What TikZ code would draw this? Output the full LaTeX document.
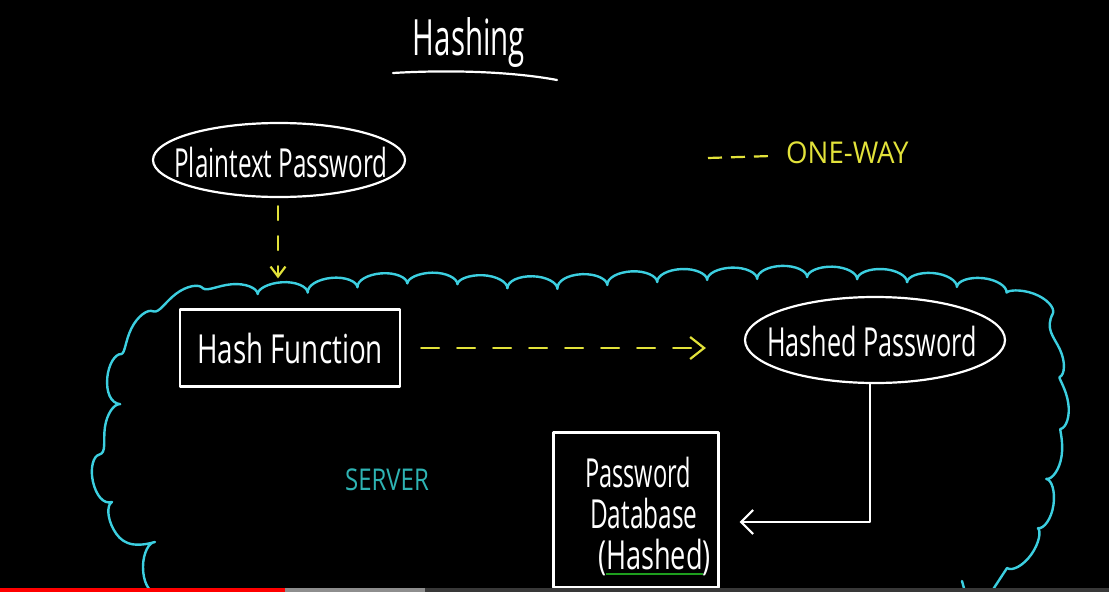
\documentclass[tikz,border=0pt]{standalone}
\usepackage{fontspec}
\usepackage{graphicx}
\setmainfont{Open Sans}
\usetikzlibrary{arrows.meta,decorations.pathmorphing,calc,shapes.geometric}
\definecolor{cl}{HTML}{3CCFE0}
\definecolor{srv}{HTML}{2EB3B3}
\definecolor{yl}{HTML}{E2E23A}
\definecolor{ulg}{HTML}{1E9E1E}
\definecolor{pbred}{HTML}{FF0000}
\definecolor{pbgray}{HTML}{8E8E8E}
\definecolor{pbdark}{HTML}{383838}
\newcommand\hs[2]{\scalebox{#1}[1]{#2}}
\newcommand\greenul[1]{\setbox0\hbox{#1}\rlap{\color{ulg}\rule[-6pt]{\wd0}{2.5pt}}\box0}
\begin{document}
\begin{tikzpicture}[x=1pt,y=-1pt,
  wline/.style={draw=white, line width=2.2pt, line cap=round, line join=round},
  hand/.style={text=white, font=\fontsize{40}{41}\selectfont, inner sep=0pt},
  ydash/.style={draw=yl, line width=2.2pt, line cap=round, dash pattern=on 14pt off 16pt},
  cloudline/.style={draw=cl, line width=2.4pt, line cap=round, line join=round}
]
\useasboundingbox (0,0) rectangle (1109,592);
\fill[black] (0,0) rectangle (1109,592);

% title
\node[text=white, font=\fontsize{50}{52}\selectfont, inner sep=0pt, anchor=base] (title) at (469,55) {\hs{0.59}{Hashing}};
\coordinate (ul1) at (393,73);
\coordinate (ul2) at (557,80);
\draw[wline] (ul1) .. controls (460,69) and (520,73) .. (ul2);

% legend
\node[text=yl, font=\fontsize{30}{32}\selectfont, inner sep=0pt, anchor=west] (ow) at (786,153) {\hs{0.92}{ONE-WAY}};
\coordinate (lg) at (708,158);
\draw[draw=yl, line width=2.2pt, dash pattern=on 14pt off 9pt] (lg) -- ($(ow.west)+(-15,3)$);

% cloud (server)
\draw[cloudline, decorate, decoration={bumps, segment length=100pt, amplitude=12pt}]
  plot[smooth, tension=0.5] coordinates {(155,592) (137,547) (110,503) (115,440) (120,385) (143,337) (190,302) (240,297) (300,293) (360,287) (420,285) (480,287) (540,288) (600,285) (660,282) (720,280) (790,278) (860,280) (930,285) (990,292) (1022,305) (1040,335) (1050,367) (1055,413) (1045,480) (1040,520) (1017,550) (1002,575) (1002,592)};
\coordinate (cs1) at (962,581);
\coordinate (cs2) at (965,592);
\draw[cloudline] (cs1) -- (cs2);

% nodes
\node[wline, ellipse, minimum width=252pt, minimum height=74pt, inner sep=0pt] (pp) at (279,160) {};
\node[hand] (ppt) at (281,162) {\hs{0.606}{Plaintext Password}};
\node[wline, rectangle, minimum width=220pt, minimum height=77pt, hand] (hf) at (290,348) {\hs{0.695}{Hash Function}};
\node[wline, ellipse, minimum width=260pt, minimum height=86pt, inner sep=0pt] (hp) at (875,340) {};
\node[hand] (hpt) at (872,341) {\hs{0.63}{Hashed Password}};
\node[wline, rectangle, minimum width=165pt, minimum height=155pt, inner sep=0pt] (db) at (636,510) {};
\node[hand, align=left] (dbt) at (648,516)
  {\hs{0.59}{Password}\\\hspace{5pt}\hs{0.61}{Database}\\\hspace{13pt}\hs{0.68}{(\greenul{Hashed})}};
\node[text=srv, font=\fontsize{30}{32}\selectfont, inner sep=0pt] (srv) at (387,480) {\hs{0.8}{SERVER}};

% connectors
\draw[ydash, shorten <=8pt, shorten >=30pt, -{Straight Barb[length=10pt,width=15pt]}]
  ($(pp.south)+(-1,0)$) -- ($(pp.south |- hf.north)+(-1,0)$);
\draw[ydash, dash pattern=on 18pt off 18pt, shorten <=20pt, shorten >=38pt, -{Straight Barb[length=14pt,width=22pt]}]
  (hf.east) -- (hf.east -| hp.west);
\draw[wline, shorten >=20pt, -{Straight Barb[length=12pt,width=24pt]}]
  ($(hp.south)+(-5,0)$) |- ($(db.east)+(0,12)$);

% progress bar
\fill[pbred] (0,588) rectangle (285,592);
\fill[pbgray] (285,588) rectangle (425,592);
\fill[pbdark] (425,588) rectangle (1109,592);
\end{tikzpicture}
\end{document}
